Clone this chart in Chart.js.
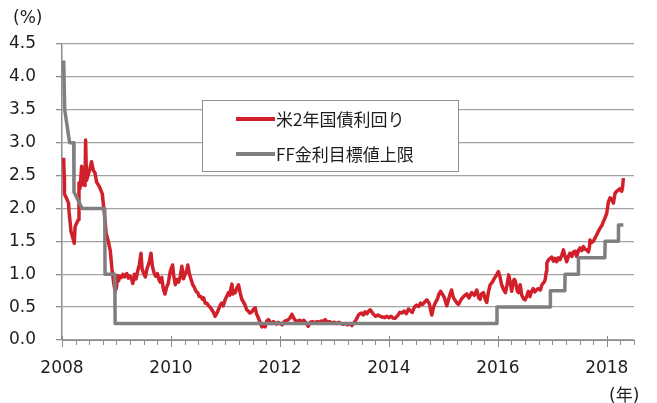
<!DOCTYPE html>
<html>
<head>
<meta charset="utf-8">
<script src="https://cdn.jsdelivr.net/npm/chart.js@4.4.1/dist/chart.umd.min.js"></script>
<style>
  html, body { margin: 0; padding: 0; background: #fff; overflow: hidden; }
  #wrap { position: relative; width: 657px; height: 403px; overflow: hidden; }
  #chart { position: absolute; left: 0; top: 0; }
  .note { position: absolute; font-family: "DejaVu Sans", "Noto Sans CJK JP", sans-serif; font-size: 17px; color: #1e1e1e; white-space: nowrap; }
</style>
</head>
<body>
<div id="wrap">
  <canvas id="chart" width="657" height="403"></canvas>
  <div class="note" style="left:13px; top:7px;">(%)</div>
  <div class="note" style="left:609px; top:381px;">(年)</div>
  <div class="note" style="left:4px; top:398.5px; font-size:15px;">（出所）ブルームバーグ、FRB資料より大和総研作成</div>
</div>
<script>
// US 2-year Treasury yield (decimal year, %)
const ust2Date = [
  2008.03, 2008.04, 2008.045, 2008.08, 2008.12, 2008.13, 2008.165, 2008.19, 2008.225, 2008.24,
  2008.27, 2008.3, 2008.312, 2008.33, 2008.345, 2008.36, 2008.372, 2008.39, 2008.41, 2008.422,
  2008.433, 2008.451, 2008.483, 2008.51, 2008.543, 2008.574, 2008.606, 2008.635, 2008.666, 2008.697,
  2008.74, 2008.78, 2008.81, 2008.85, 2008.886, 2008.917, 2008.947, 2008.975,
  2009.0, 2009.02, 2009.04, 2009.06, 2009.09, 2009.12, 2009.15, 2009.19, 2009.22, 2009.25,
  2009.28, 2009.3, 2009.33, 2009.36, 2009.39, 2009.42, 2009.45, 2009.47, 2009.5, 2009.53,
  2009.56, 2009.6, 2009.633, 2009.66, 2009.69, 2009.72, 2009.75, 2009.78, 2009.8, 2009.83,
  2009.86, 2009.89, 2009.92, 2009.95, 2009.97, 2009.99,
  2010.03, 2010.05, 2010.08, 2010.11, 2010.14, 2010.17, 2010.2, 2010.23, 2010.26, 2010.29,
  2010.31, 2010.34, 2010.37, 2010.4, 2010.43, 2010.46, 2010.49, 2010.52, 2010.55, 2010.58,
  2010.6, 2010.63, 2010.66, 2010.69, 2010.72, 2010.75, 2010.78, 2010.81, 2010.84, 2010.87,
  2010.9, 2010.93, 2010.96, 2010.99,
  2011.02, 2011.057, 2011.08, 2011.1, 2011.119, 2011.14, 2011.16, 2011.18, 2011.21, 2011.24,
  2011.27, 2011.3, 2011.33, 2011.36, 2011.39, 2011.42, 2011.45, 2011.486, 2011.52, 2011.547,
  2011.57, 2011.607, 2011.64, 2011.67, 2011.7, 2011.73, 2011.76, 2011.79, 2011.82, 2011.85,
  2011.88, 2011.91, 2011.94, 2011.97,
  2012.0, 2012.04, 2012.07, 2012.1, 2012.14, 2012.18, 2012.22, 2012.25, 2012.28, 2012.32,
  2012.36, 2012.4, 2012.44, 2012.48, 2012.52, 2012.56, 2012.6, 2012.64, 2012.68, 2012.72,
  2012.76, 2012.8, 2012.83, 2012.87, 2012.91, 2012.95,
  2013.0, 2013.04, 2013.08, 2013.12, 2013.16, 2013.2, 2013.24, 2013.28, 2013.32, 2013.36,
  2013.4, 2013.443, 2013.47, 2013.5, 2013.53, 2013.565, 2013.6, 2013.63, 2013.657, 2013.7,
  2013.73, 2013.76, 2013.8, 2013.84, 2013.88, 2013.92, 2013.96,
  2014.0, 2014.04, 2014.08, 2014.115, 2014.16, 2014.2, 2014.24, 2014.28, 2014.32, 2014.36,
  2014.4, 2014.43, 2014.47, 2014.51, 2014.55, 2014.58, 2014.62, 2014.66, 2014.697, 2014.74,
  2014.788, 2014.82, 2014.85, 2014.89, 2014.92, 2014.95, 2014.98,
  2015.02, 2015.063, 2015.09, 2015.125, 2015.15, 2015.186, 2015.22, 2015.25, 2015.278, 2015.33,
  2015.37, 2015.43, 2015.47, 2015.52, 2015.57, 2015.614, 2015.65, 2015.675, 2015.7, 2015.736,
  2015.77, 2015.797, 2015.83, 2015.86, 2015.9, 2015.94, 2015.97,
  2016.01, 2016.04, 2016.07, 2016.11, 2016.14, 2016.17, 2016.2, 2016.23, 2016.256, 2016.28,
  2016.3, 2016.32, 2016.36, 2016.38, 2016.41, 2016.44, 2016.47, 2016.5, 2016.53, 2016.56,
  2016.59, 2016.62, 2016.65, 2016.68, 2016.72, 2016.745, 2016.78, 2016.81, 2016.85, 2016.87,
  2016.89, 2016.9, 2016.93, 2016.96, 2016.99,
  2017.02, 2017.05, 2017.08, 2017.11, 2017.14, 2017.18, 2017.204, 2017.23, 2017.265, 2017.3,
  2017.326, 2017.36, 2017.387, 2017.42, 2017.448, 2017.48, 2017.51, 2017.54, 2017.571, 2017.6,
  2017.632, 2017.663, 2017.68, 2017.693, 2017.72, 2017.754, 2017.79, 2017.816, 2017.85, 2017.877,
  2017.91, 2017.938, 2017.97,
  2018.0, 2018.03, 2018.06, 2018.09, 2018.121, 2018.152, 2018.18, 2018.213, 2018.24, 2018.274,
  2018.29, 2018.305
];
const ust2Yield = [
  2.77, 2.50, 2.22, 2.16, 2.08, 1.95, 1.65, 1.58, 1.47, 1.72,
  1.78, 1.83, 2.39, 2.30, 2.45, 2.64, 2.36, 2.48, 2.40, 2.35,
  3.04, 2.43, 2.52, 2.60, 2.71, 2.58, 2.54, 2.40, 2.36, 2.31,
  2.22, 1.90, 1.62, 1.50, 1.36, 1.08, 0.88, 0.74,
  0.80, 0.98, 0.90, 0.97, 0.95, 1.00, 0.96, 1.01, 0.94, 0.97,
  0.92, 0.86, 1.00, 0.93, 1.05, 1.15, 1.32, 1.08, 1.01, 0.96,
  1.08, 1.18, 1.32, 1.12, 1.02, 0.97, 1.01, 0.92, 0.88, 0.95,
  0.78, 0.70, 0.80, 0.86, 0.96, 1.05,
  1.14, 0.98, 0.84, 0.92, 0.88, 0.96, 1.12, 0.93, 1.00, 1.06,
  1.14, 1.00, 0.92, 0.84, 0.80, 0.74, 0.72, 0.66, 0.66, 0.62,
  0.64, 0.56, 0.56, 0.52, 0.50, 0.46, 0.42, 0.36, 0.40, 0.46,
  0.52, 0.56, 0.52, 0.60,
  0.66, 0.72, 0.68, 0.78, 0.85, 0.70, 0.75, 0.72, 0.79, 0.84,
  0.72, 0.62, 0.58, 0.53, 0.46, 0.44, 0.41, 0.43, 0.47, 0.49,
  0.40, 0.33, 0.26, 0.20, 0.22, 0.20, 0.29, 0.31, 0.27, 0.25,
  0.28, 0.26, 0.24, 0.27,
  0.25, 0.23, 0.27, 0.29, 0.30, 0.33, 0.39, 0.34, 0.30, 0.28,
  0.30, 0.28, 0.30, 0.26, 0.21, 0.27, 0.28, 0.26, 0.28, 0.27,
  0.29, 0.28, 0.31, 0.27, 0.28, 0.26,
  0.27, 0.25, 0.27, 0.25, 0.24, 0.25, 0.23, 0.25, 0.22, 0.26,
  0.31, 0.38, 0.40, 0.41, 0.38, 0.43, 0.40, 0.44, 0.46, 0.41,
  0.38, 0.36, 0.38, 0.36, 0.35, 0.34, 0.36,
  0.34, 0.36, 0.33, 0.33, 0.37, 0.42, 0.41, 0.44, 0.40, 0.47,
  0.44, 0.42, 0.50, 0.53, 0.51, 0.56, 0.54, 0.58, 0.61, 0.56,
  0.38, 0.50, 0.56, 0.62, 0.70, 0.74, 0.70,
  0.64, 0.52, 0.60, 0.70, 0.76, 0.64, 0.60, 0.56, 0.54, 0.62,
  0.66, 0.70, 0.64, 0.72, 0.68, 0.76, 0.64, 0.62, 0.70, 0.72,
  0.62, 0.57, 0.74, 0.84, 0.88, 0.94, 0.98,
  1.04, 0.96, 0.84, 0.76, 0.72, 0.84, 0.99, 0.86, 0.74, 0.88,
  0.92, 0.90, 0.74, 0.72, 0.84, 0.68, 0.63, 0.61, 0.66, 0.74,
  0.66, 0.74, 0.78, 0.73, 0.77, 0.78, 0.76, 0.84, 0.88, 0.92,
  1.04, 1.17, 1.22, 1.24, 1.26,
  1.20, 1.24, 1.19, 1.25, 1.22, 1.30, 1.37, 1.28, 1.19, 1.28,
  1.32, 1.27, 1.34, 1.35, 1.27, 1.36, 1.40, 1.36, 1.42, 1.38,
  1.37, 1.34, 1.40, 1.52, 1.48, 1.50, 1.56, 1.60, 1.66, 1.70,
  1.74, 1.80, 1.86,
  1.93, 2.10, 2.16, 2.14, 2.08, 2.23, 2.26, 2.28, 2.30, 2.26,
  2.32, 2.46
];

// FF rate target, upper bound (decimal year, %)
const ffDate = [2008.03, 2008.05, 2008.14, 2008.215, 2008.22, 2008.37, 2008.785, 2008.79, 2008.97, 2008.975,
  2015.98, 2015.985, 2016.96, 2016.965, 2017.23, 2017.235, 2017.475, 2017.48, 2017.965, 2017.97,
  2018.21, 2018.215, 2018.305];
const ffRate = [4.25, 3.5, 3.0, 3.0, 2.25, 2.0, 2.0, 1.0, 1.0, 0.25,
  0.25, 0.5, 0.5, 0.75, 0.75, 1.0, 1.0, 1.25, 1.25, 1.5,
  1.5, 1.75, 1.75];

const seriesNames = ['米2年国債利回り', 'FF金利目標値上限'];
const seriesColors = ['#d1202a', '#7f7f7f'];

const yMin = 0, yMax = 4.5, yStep = 0.5;
const xMin = 2008, xMax = 2018.5, xStep = 0.25, xLabelEvery = 2;

const axisGray = '#8c8c8c';
const tickFont = { family: '"DejaVu Sans", Verdana, sans-serif', size: 17 };

// x ticks: short marks every quarter, long marks at labelled years
const axisTicks = {
  id: 'axisTicks',
  afterDatasetsDraw(chart) {
    const xs = chart.scales.x;
    const y0 = Math.round(chart.scales.y.getPixelForValue(0));
    const ctx = chart.ctx;
    ctx.save();
    ctx.strokeStyle = axisGray;
    ctx.lineWidth = 1;
    ctx.beginPath();
    xs.ticks.forEach(t => {
      const px = Math.round(xs.getPixelForValue(t.value)) + 0.5;
      const major = Math.abs(t.value % xLabelEvery) < 1e-9;
      ctx.moveTo(px, y0 - (major ? 4 : 0));
      ctx.lineTo(px, y0 + (major ? 7 : 5));
    });
    ctx.stroke();
    ctx.restore();
  }
};

// boxed legend inside the plot
const legendBox = {
  id: 'legendBox',
  afterDraw(chart) {
    const ctx = chart.ctx;
    const bx = 202.5, by = 100.5, bw = 256, bh = 71;
    ctx.save();
    ctx.fillStyle = '#fff';
    ctx.fillRect(bx, by, bw, bh);
    ctx.strokeStyle = '#8f8f8f';
    ctx.lineWidth = 1;
    ctx.strokeRect(bx, by, bw, bh);
    ctx.font = '17px "Noto Sans CJK JP", "DejaVu Sans", sans-serif';
    ctx.textBaseline = 'middle';
    ctx.fillStyle = '#1e1e1e';
    chart.data.datasets.forEach((ds, i) => {
      const cy = 119 + i * 35;
      ctx.strokeStyle = ds.borderColor;
      ctx.lineWidth = 4;
      ctx.beginPath();
      ctx.moveTo(236, cy);
      ctx.lineTo(275, cy);
      ctx.stroke();
      ctx.fillText(ds.label, 276, cy + 1);
    });
    ctx.restore();
  }
};

new Chart(document.getElementById('chart'), {
  type: 'line',
  data: {
    datasets: [
      {
        label: seriesNames[0],
        data: ust2Date.map((d, i) => ({ x: d, y: ust2Yield[i] })),
        borderColor: seriesColors[0],
        borderWidth: 3.5,
        pointRadius: 0,
        borderJoinStyle: 'round',
        tension: 0,
        order: 1
      },
      {
        label: seriesNames[1],
        data: ffDate.map((d, i) => ({ x: d, y: ffRate[i] })),
        borderColor: seriesColors[1],
        borderWidth: 3.5,
        pointRadius: 0,
        borderJoinStyle: 'round',
        tension: 0,
        order: 0
      }
    ]
  },
  options: {
    responsive: false,
    animation: false,
    devicePixelRatio: 1,
    layout: { padding: { top: 44, right: 23, left: 0, bottom: 0 } },
    plugins: { legend: { display: false }, tooltip: { enabled: false } },
    scales: {
      x: {
        type: 'linear',
        min: xMin,
        max: xMax,
        afterFit: s => { s.height = 63; },
        grid: { drawOnChartArea: false, drawTicks: false },
        border: { color: axisGray, width: 1 },
        ticks: {
          stepSize: xStep,
          autoSkip: false,
          maxRotation: 0,
          padding: 18,
          color: '#1e1e1e',
          font: tickFont,
          callback: v => (Math.abs(v % xLabelEvery) < 1e-9 ? String(v) : '')
        }
      },
      y: {
        min: yMin,
        max: yMax,
        afterFit: s => { s.width = 62; },
        grid: { color: '#a3a3a3', lineWidth: 1.3, tickLength: 6, tickColor: axisGray },
        border: { color: axisGray, width: 1.5 },
        ticks: {
          stepSize: yStep,
          padding: 20,
          color: '#1e1e1e',
          font: tickFont,
          callback: v => v.toFixed(1)
        }
      }
    }
  },
  plugins: [axisTicks, legendBox]
});
</script>
</body>
</html>
